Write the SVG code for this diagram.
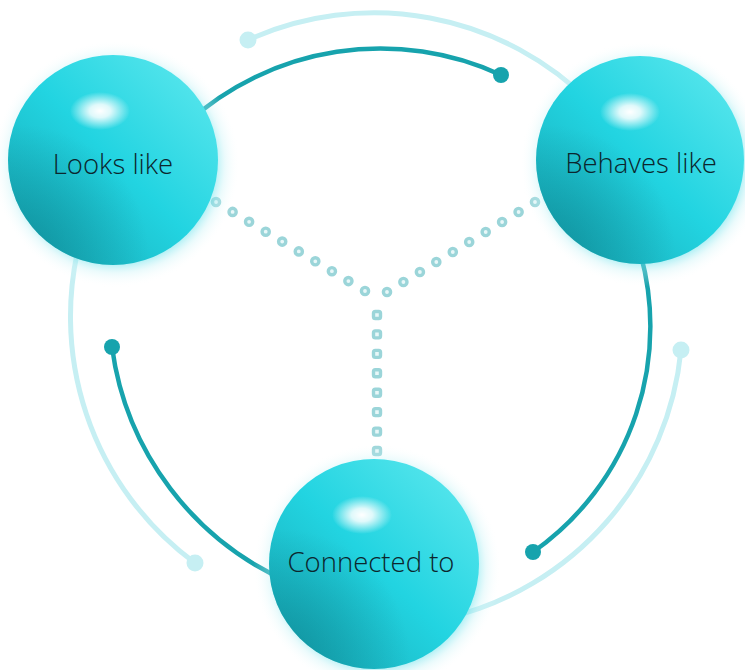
<svg xmlns="http://www.w3.org/2000/svg" width="745" height="670" viewBox="0 0 745 670">
<defs>
  <linearGradient id="ballBase" x1="0.9" y1="0.1" x2="0.1" y2="0.9">
    <stop offset="0" stop-color="#55e5ec"/>
    <stop offset="0.5" stop-color="#22d4e1"/>
    <stop offset="1" stop-color="#19b0bc"/>
  </linearGradient>
  <radialGradient id="ballShade" cx="0.05" cy="0.95" r="0.62">
    <stop offset="0" stop-color="#0a7d89" stop-opacity="0.6"/>
    <stop offset="1" stop-color="#0a7d89" stop-opacity="0"/>
  </radialGradient>
  <radialGradient id="hl">
    <stop offset="0" stop-color="#ffffff" stop-opacity="1"/>
    <stop offset="0.35" stop-color="#ffffff" stop-opacity="0.85"/>
    <stop offset="1" stop-color="#ffffff" stop-opacity="0"/>
  </radialGradient>
  <radialGradient id="glow">
    <stop offset="0.8" stop-color="#5fe0ea" stop-opacity="0.5"/>
    <stop offset="0.88" stop-color="#bdf1f5" stop-opacity="0.3"/>
    <stop offset="1" stop-color="#ffffff" stop-opacity="0"/>
  </radialGradient>
  <filter id="soft" x="-30%" y="-30%" width="160%" height="160%">
    <feGaussianBlur stdDeviation="0.6"/>
  </filter>
</defs>
<style>
  .dark { fill: none; stroke: #17a3ad; stroke-width: 4.5; stroke-linecap: round; }
  .light { fill: none; stroke: #c6eff3; stroke-width: 5; stroke-linecap: round; }
  .ddot { fill: #17a3ad; }
  .ldot { fill: #c6eff3; }
  .ring { fill: #e8f7f8; stroke: #9bd5d9; stroke-width: 3.4; }
  .label { font-family: "Open Sans", "Liberation Sans", sans-serif; font-weight: 300; font-size: 27.5px; fill: #0c262d; text-anchor: middle; }
</style>

<g id="connectors">
  <path class="light" d="M248,40 A306,306 0 0 1 592,104"/>
  <circle class="ldot" cx="248" cy="40" r="8.5"/>
  <path class="light" d="M681,350 A306,306 0 0 1 447,618"/>
  <circle class="ldot" cx="681" cy="350" r="8.5"/>
  <path class="light" d="M195,563 A306,306 0 0 1 83,230"/>
  <circle class="ldot" cx="195" cy="563" r="8.5"/>
  <path class="dark" d="M187,123 A288,288 0 0 1 501,75"/>
  <circle class="ddot" cx="501" cy="75" r="8"/>
  <path class="dark" d="M637,242 A275,275 0 0 1 533,552"/>
  <circle class="ddot" cx="533" cy="552" r="8"/>
  <path class="dark" d="M291,583 A300,300 0 0 1 112,347"/>
  <circle class="ddot" cx="112" cy="347" r="8"/>
  <g filter="url(#soft)">
    <circle class="ring" cx="216" cy="202" r="3.6"/>
    <circle class="ring" cx="232.6" cy="211.9" r="3.6"/>
    <circle class="ring" cx="249.1" cy="221.8" r="3.6"/>
    <circle class="ring" cx="265.7" cy="231.7" r="3.6"/>
    <circle class="ring" cx="282.2" cy="241.6" r="3.6"/>
    <circle class="ring" cx="298.8" cy="251.4" r="3.6"/>
    <circle class="ring" cx="315.3" cy="261.3" r="3.6"/>
    <circle class="ring" cx="331.9" cy="271.2" r="3.6"/>
    <circle class="ring" cx="348.4" cy="281.1" r="3.6"/>
    <circle class="ring" cx="365" cy="291" r="3.6"/>
    <circle class="ring" cx="535" cy="202" r="3.6"/>
    <circle class="ring" cx="518.6" cy="212" r="3.6"/>
    <circle class="ring" cx="502.1" cy="222" r="3.6"/>
    <circle class="ring" cx="485.7" cy="232" r="3.6"/>
    <circle class="ring" cx="469.2" cy="242" r="3.6"/>
    <circle class="ring" cx="452.8" cy="252" r="3.6"/>
    <circle class="ring" cx="436.3" cy="262" r="3.6"/>
    <circle class="ring" cx="419.9" cy="272" r="3.6"/>
    <circle class="ring" cx="403.4" cy="282" r="3.6"/>
    <circle class="ring" cx="387" cy="292" r="3.6"/>
    <rect class="ring" x="373.5" y="311.5" width="7" height="7" rx="1.8"/>
    <rect class="ring" x="373.5" y="330.9" width="7" height="7" rx="1.8"/>
    <rect class="ring" x="373.5" y="350.4" width="7" height="7" rx="1.8"/>
    <rect class="ring" x="373.5" y="369.8" width="7" height="7" rx="1.8"/>
    <rect class="ring" x="373.5" y="389.2" width="7" height="7" rx="1.8"/>
    <rect class="ring" x="373.5" y="408.6" width="7" height="7" rx="1.8"/>
    <rect class="ring" x="373.5" y="428.1" width="7" height="7" rx="1.8"/>
    <rect class="ring" x="373.5" y="447.5" width="7" height="7" rx="1.8"/>
  </g>
</g>

<g id="looks-like">
  <circle cx="116" cy="164" r="124" fill="url(#glow)"/>
  <circle cx="113" cy="160" r="105" fill="url(#ballBase)"/>
  <circle cx="113" cy="160" r="105" fill="url(#ballShade)"/>
  <ellipse cx="100" cy="111" rx="30" ry="19" fill="url(#hl)"/>
  <text class="label" x="113" y="174">Looks like</text>
</g>

<g id="behaves-like">
  <circle cx="643" cy="164" r="123" fill="url(#glow)"/>
  <circle cx="640" cy="160" r="104" fill="url(#ballBase)"/>
  <circle cx="640" cy="160" r="104" fill="url(#ballShade)"/>
  <ellipse cx="630" cy="112" rx="30" ry="19" fill="url(#hl)"/>
  <text class="label" x="641" y="173">Behaves like</text>
</g>

<g id="connected-to">
  <circle cx="377" cy="568" r="124" fill="url(#glow)"/>
  <circle cx="374" cy="564" r="105" fill="url(#ballBase)"/>
  <circle cx="374" cy="564" r="105" fill="url(#ballShade)"/>
  <ellipse cx="362" cy="515" rx="30" ry="19" fill="url(#hl)"/>
  <text class="label" x="371" y="572">Connected to</text>
</g>
</svg>
